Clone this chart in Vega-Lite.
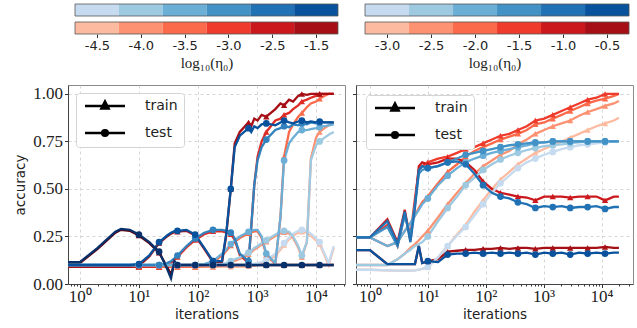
{
"$schema": "https://vega.github.io/schema/vega-lite/v6.json",
"padding": {"left": 13, "top": 3, "right": 0, "bottom": 0},
"config": {
 "font": "DejaVu Sans",
 "view": {"stroke": "#8a8a8a", "strokeWidth": 1},
 "axis": {"titleFontWeight": "normal", "labelColor": "#222222", "titleColor": "#222222", "tickColor": "#333333", "domainColor": "#444444", "domainWidth": 1, "tickWidth": 1}
},
"columns": 2,
"align": "each",
"spacing": {"row": 13, "column": 5},
"resolve": {"scale": {"x": "independent", "y": "independent", "color": "independent", "shape": "independent"}, "legend": {"shape": "independent", "color": "independent"}},
"datasets": {
 "cb": [
  {"bar": "blue", "i": 0, "lo": -0.5, "hi": 0.5, "k": "b0"},
  {"bar": "blue", "i": 1, "lo": 0.5, "hi": 1.5, "k": "b1"},
  {"bar": "blue", "i": 2, "lo": 1.5, "hi": 2.5, "k": "b2"},
  {"bar": "blue", "i": 3, "lo": 2.5, "hi": 3.5, "k": "b3"},
  {"bar": "blue", "i": 4, "lo": 3.5, "hi": 4.5, "k": "b4"},
  {"bar": "blue", "i": 5, "lo": 4.5, "hi": 5.5, "k": "b5"},
  {"bar": "red", "i": 0, "lo": -0.5, "hi": 0.5, "k": "r0"},
  {"bar": "red", "i": 1, "lo": 0.5, "hi": 1.5, "k": "r1"},
  {"bar": "red", "i": 2, "lo": 1.5, "hi": 2.5, "k": "r2"},
  {"bar": "red", "i": 3, "lo": 2.5, "hi": 3.5, "k": "r3"},
  {"bar": "red", "i": 4, "lo": 3.5, "hi": 4.5, "k": "r4"},
  {"bar": "red", "i": 5, "lo": 4.5, "hi": 5.5, "k": "r5"}
 ],
 "L": [
  {"x":0.63,"tr1":0.09,"tr2":0.09,"tr3":0.09,"tr4":0.09,"tr5":0.09,"tr6":0.11,"te1":0.1,"te2":0.1,"te3":0.1,"te4":0.1,"te5":0.1,"te6":0.115},
  {"x":1,"tr1":0.09,"tr2":0.09,"tr3":0.09,"tr4":0.09,"tr5":0.09,"tr6":0.11,"te1":0.1,"te2":0.1,"te3":0.1,"te4":0.1,"te5":0.1,"te6":0.115},
  {"x":2,"tr1":0.09,"tr2":0.09,"tr3":0.09,"tr4":0.09,"tr5":0.09,"tr6":0.185,"te1":0.1,"te2":0.1,"te3":0.1,"te4":0.1,"te5":0.1,"te6":0.19},
  {"x":3,"tr1":0.09,"tr2":0.09,"tr3":0.09,"tr4":0.09,"tr5":0.09,"tr6":0.235,"te1":0.1,"te2":0.1,"te3":0.1,"te4":0.1,"te5":0.1,"te6":0.24},
  {"x":4,"tr1":0.09,"tr2":0.09,"tr3":0.09,"tr4":0.09,"tr5":0.09,"tr6":0.27,"te1":0.1,"te2":0.1,"te3":0.1,"te4":0.1,"te5":0.1,"te6":0.275},
  {"x":5,"tr1":0.09,"tr2":0.09,"tr3":0.09,"tr4":0.09,"tr5":0.09,"tr6":0.285,"te1":0.1,"te2":0.1,"te3":0.1,"te4":0.1,"te5":0.1,"te6":0.29},
  {"x":7,"tr1":0.09,"tr2":0.09,"tr3":0.09,"tr4":0.09,"tr5":0.09,"tr6":0.28,"te1":0.1,"te2":0.1,"te3":0.1,"te4":0.1,"te5":0.1,"te6":0.285},
  {"x":10,"tr1":0.09,"tr2":0.09,"tr3":0.09,"tr4":0.09,"tr5":0.095,"tr6":0.255,"te1":0.1,"te2":0.1,"te3":0.1,"te4":0.1,"te5":0.105,"te6":0.26},
  {"x":15,"tr1":0.09,"tr2":0.09,"tr3":0.09,"tr4":0.09,"tr5":0.145,"tr6":0.215,"te1":0.1,"te2":0.1,"te3":0.1,"te4":0.1,"te5":0.15,"te6":0.22},
  {"x":22,"tr1":0.09,"tr2":0.09,"tr3":0.09,"tr4":0.09,"tr5":0.215,"tr6":0.165,"te1":0.1,"te2":0.1,"te3":0.1,"te4":0.1,"te5":0.22,"te6":0.17},
  {"x":30,"tr1":0.09,"tr2":0.09,"tr3":0.09,"tr4":0.1,"tr5":0.25,"tr6":0.09,"te1":0.1,"te2":0.1,"te3":0.1,"te4":0.11,"te5":0.255,"te6":0.08},
  {"x":35,"tr1":0.09,"tr2":0.09,"tr3":0.09,"tr4":0.11,"tr5":0.265,"tr6":0.05,"te1":0.1,"te2":0.1,"te3":0.1,"te4":0.12,"te5":0.27,"te6":0.03},
  {"x":40,"tr1":0.09,"tr2":0.09,"tr3":0.09,"tr4":0.127,"tr5":0.273,"tr6":0.11,"te1":0.1,"te2":0.1,"te3":0.1,"te4":0.135,"te5":0.278,"te6":0.12},
  {"x":45,"tr1":0.09,"tr2":0.09,"tr3":0.09,"tr4":0.142,"tr5":0.275,"tr6":0.1,"te1":0.1,"te2":0.1,"te3":0.1,"te4":0.15,"te5":0.28,"te6":0.1},
  {"x":64,"tr1":0.09,"tr2":0.09,"tr3":0.09,"tr4":0.192,"tr5":0.28,"tr6":0.1,"te1":0.1,"te2":0.1,"te3":0.1,"te4":0.2,"te5":0.285,"te6":0.1},
  {"x":90,"tr1":0.09,"tr2":0.09,"tr3":0.09,"tr4":0.232,"tr5":0.255,"tr6":0.1,"te1":0.1,"te2":0.1,"te3":0.1,"te4":0.24,"te5":0.26,"te6":0.1},
  {"x":128,"tr1":0.09,"tr2":0.09,"tr3":0.097,"tr4":0.262,"tr5":0.185,"tr6":0.1,"te1":0.1,"te2":0.1,"te3":0.105,"te4":0.27,"te5":0.19,"te6":0.1},
  {"x":180,"tr1":0.09,"tr2":0.09,"tr3":0.112,"tr4":0.277,"tr5":0.115,"tr6":0.1,"te1":0.1,"te2":0.1,"te3":0.12,"te4":0.285,"te5":0.12,"te6":0.1},
  {"x":256,"tr1":0.09,"tr2":0.097,"tr3":0.152,"tr4":0.277,"tr5":0.115,"tr6":0.1,"te1":0.1,"te2":0.105,"te3":0.16,"te4":0.285,"te5":0.12,"te6":0.1},
  {"x":300,"tr1":0.09,"tr2":0.102,"tr3":0.172,"tr4":0.272,"tr5":0.25,"tr6":0.1,"te1":0.1,"te2":0.11,"te3":0.18,"te4":0.28,"te5":0.26,"te6":0.1},
  {"x":360,"tr1":0.09,"tr2":0.112,"tr3":0.202,"tr4":0.262,"tr5":0.5,"tr6":0.1,"te1":0.1,"te2":0.12,"te3":0.21,"te4":0.27,"te5":0.5,"te6":0.1},
  {"x":420,"tr1":0.09,"tr2":0.122,"tr3":0.222,"tr4":0.232,"tr5":0.74,"tr6":0.1,"te1":0.1,"te2":0.13,"te3":0.23,"te4":0.24,"te5":0.72,"te6":0.1},
  {"x":512,"tr1":0.09,"tr2":0.132,"tr3":0.242,"tr4":0.152,"tr5":0.8,"tr6":0.1,"te1":0.1,"te2":0.14,"te3":0.25,"te4":0.16,"te5":0.78,"te6":0.1},
  {"x":720,"tr1":0.093,"tr2":0.157,"tr3":0.267,"tr4":0.11,"tr5":0.85,"tr6":0.1,"te1":0.103,"te2":0.165,"te3":0.275,"te4":0.12,"te5":0.82,"te6":0.1},
  {"x":800,"tr1":0.095,"tr2":0.167,"tr3":0.272,"tr4":0.3,"tr5":0.83,"tr6":0.1,"te1":0.105,"te2":0.175,"te3":0.28,"te4":0.3,"te5":0.8,"te6":0.1},
  {"x":900,"tr1":0.097,"tr2":0.182,"tr3":0.277,"tr4":0.52,"tr5":0.87,"tr6":0.1,"te1":0.107,"te2":0.19,"te3":0.285,"te4":0.52,"te5":0.83,"te6":0.1},
  {"x":1024,"tr1":0.1,"tr2":0.192,"tr3":0.277,"tr4":0.67,"tr5":0.86,"tr6":0.1,"te1":0.11,"te2":0.2,"te3":0.285,"te4":0.65,"te5":0.82,"te6":0.1},
  {"x":1200,"tr1":0.105,"tr2":0.207,"tr3":0.242,"tr4":0.75,"tr5":0.89,"tr6":0.1,"te1":0.115,"te2":0.215,"te3":0.25,"te4":0.72,"te5":0.84,"te6":0.1},
  {"x":1440,"tr1":0.115,"tr2":0.222,"tr3":0.152,"tr4":0.8,"tr5":0.88,"tr6":0.1,"te1":0.125,"te2":0.23,"te3":0.16,"te4":0.76,"te5":0.845,"te6":0.1},
  {"x":2048,"tr1":0.15,"tr2":0.252,"tr3":0.105,"tr4":0.86,"tr5":0.92,"tr6":0.1,"te1":0.16,"te2":0.26,"te3":0.11,"te4":0.81,"te5":0.835,"te6":0.1},
  {"x":2500,"tr1":0.18,"tr2":0.267,"tr3":0.35,"tr4":0.87,"tr5":0.95,"tr6":0.1,"te1":0.19,"te2":0.275,"te3":0.35,"te4":0.82,"te5":0.85,"te6":0.1},
  {"x":2880,"tr1":0.205,"tr2":0.272,"tr3":0.67,"tr4":0.89,"tr5":0.94,"tr6":0.1,"te1":0.215,"te2":0.28,"te3":0.65,"te4":0.83,"te5":0.86,"te6":0.1},
  {"x":3500,"tr1":0.235,"tr2":0.267,"tr3":0.8,"tr4":0.9,"tr5":0.97,"tr6":0.1,"te1":0.245,"te2":0.275,"te3":0.74,"te4":0.825,"te5":0.85,"te6":0.1},
  {"x":4096,"tr1":0.255,"tr2":0.242,"tr3":0.84,"tr4":0.92,"tr5":0.96,"tr6":0.1,"te1":0.265,"te2":0.25,"te3":0.77,"te4":0.84,"te5":0.845,"te6":0.1},
  {"x":5000,"tr1":0.27,"tr2":0.192,"tr3":0.88,"tr4":0.94,"tr5":0.99,"tr6":0.1,"te1":0.28,"te2":0.2,"te3":0.8,"te4":0.835,"te5":0.855,"te6":0.1},
  {"x":5760,"tr1":0.275,"tr2":0.142,"tr3":0.9,"tr4":0.96,"tr5":1.0,"tr6":0.1,"te1":0.285,"te2":0.15,"te3":0.81,"te4":0.845,"te5":0.86,"te6":0.1},
  {"x":7000,"tr1":0.27,"tr2":0.22,"tr3":0.93,"tr4":0.97,"tr5":0.995,"tr6":0.1,"te1":0.28,"te2":0.22,"te3":0.81,"te4":0.84,"te5":0.85,"te6":0.1},
  {"x":8192,"tr1":0.255,"tr2":0.66,"tr3":0.95,"tr4":0.98,"tr5":1.0,"tr6":0.1,"te1":0.265,"te2":0.65,"te3":0.815,"te4":0.85,"te5":0.855,"te6":0.1},
  {"x":10000,"tr1":0.23,"tr2":0.77,"tr3":0.96,"tr4":0.99,"tr5":1.0,"tr6":0.1,"te1":0.24,"te2":0.73,"te3":0.82,"te4":0.845,"te5":0.85,"te6":0.1},
  {"x":11520,"tr1":0.21,"tr2":0.8,"tr3":0.975,"tr4":1.0,"tr5":1.0,"tr6":0.1,"te1":0.22,"te2":0.75,"te3":0.825,"te4":0.85,"te5":0.855,"te6":0.1},
  {"x":14000,"tr1":0.15,"tr2":0.82,"tr3":0.99,"tr4":1.0,"tr5":1.0,"tr6":0.1,"te1":0.16,"te2":0.77,"te3":0.83,"te4":0.85,"te5":0.85,"te6":0.1},
  {"x":16384,"tr1":0.1,"tr2":0.835,"tr3":1.0,"tr4":1.0,"tr5":1.0,"tr6":0.1,"te1":0.11,"te2":0.785,"te3":0.835,"te4":0.85,"te5":0.85,"te6":0.1},
  {"x":20000,"tr1":0.19,"tr2":0.85,"tr3":1.0,"tr4":1.0,"tr5":1.0,"tr6":0.1,"te1":0.2,"te2":0.8,"te3":0.84,"te4":0.85,"te5":0.85,"te6":0.1}
 ],
 "R": [
  {"x":0.575,"tr1":0.075,"tr2":0.1,"tr3":0.245,"tr4":0.245,"tr5":0.245,"tr6":0.178,"te1":0.075,"te2":0.1,"te3":0.245,"te4":0.245,"te5":0.245,"te6":0.178},
  {"x":1,"tr1":0.075,"tr2":0.1,"tr3":0.245,"tr4":0.245,"tr5":0.245,"tr6":0.178,"te1":0.075,"te2":0.1,"te3":0.245,"te4":0.245,"te5":0.245,"te6":0.178},
  {"x":2,"tr1":0.072,"tr2":0.1,"tr3":0.2,"tr4":0.31,"tr5":0.34,"tr6":0.105,"te1":0.072,"te2":0.1,"te3":0.2,"te4":0.3,"te5":0.33,"te6":0.105},
  {"x":3,"tr1":0.07,"tr2":0.13,"tr3":0.22,"tr4":0.2,"tr5":0.22,"tr6":0.105,"te1":0.07,"te2":0.13,"te3":0.22,"te4":0.2,"te5":0.21,"te6":0.105},
  {"x":4,"tr1":0.07,"tr2":0.16,"tr3":0.28,"tr4":0.37,"tr5":0.39,"tr6":0.105,"te1":0.07,"te2":0.16,"te3":0.28,"te4":0.36,"te5":0.38,"te6":0.105},
  {"x":5,"tr1":0.07,"tr2":0.19,"tr3":0.32,"tr4":0.25,"tr5":0.23,"tr6":0.105,"te1":0.07,"te2":0.18,"te3":0.32,"te4":0.25,"te5":0.22,"te6":0.105},
  {"x":6,"tr1":0.072,"tr2":0.21,"tr3":0.36,"tr4":0.45,"tr5":0.42,"tr6":0.105,"te1":0.072,"te2":0.2,"te3":0.36,"te4":0.42,"te5":0.4,"te6":0.105},
  {"x":7,"tr1":0.075,"tr2":0.23,"tr3":0.4,"tr4":0.6,"tr5":0.62,"tr6":0.2,"te1":0.075,"te2":0.21,"te3":0.39,"te4":0.58,"te5":0.6,"te6":0.2},
  {"x":8,"tr1":0.08,"tr2":0.25,"tr3":0.43,"tr4":0.62,"tr5":0.64,"tr6":0.11,"te1":0.08,"te2":0.22,"te3":0.42,"te4":0.6,"te5":0.62,"te6":0.11},
  {"x":10,"tr1":0.09,"tr2":0.28,"tr3":0.46,"tr4":0.64,"tr5":0.63,"tr6":0.12,"te1":0.09,"te2":0.25,"te3":0.45,"te4":0.61,"te5":0.61,"te6":0.12},
  {"x":15,"tr1":0.14,"tr2":0.35,"tr3":0.53,"tr4":0.66,"tr5":0.64,"tr6":0.13,"te1":0.14,"te2":0.33,"te3":0.52,"te4":0.62,"te5":0.62,"te6":0.115},
  {"x":22,"tr1":0.2,"tr2":0.42,"tr3":0.59,"tr4":0.67,"tr5":0.66,"tr6":0.17,"te1":0.2,"te2":0.4,"te3":0.57,"te4":0.64,"te5":0.64,"te6":0.155},
  {"x":32,"tr1":0.26,"tr2":0.48,"tr3":0.63,"tr4":0.69,"tr5":0.66,"tr6":0.175,"te1":0.255,"te2":0.46,"te3":0.61,"te4":0.66,"te5":0.645,"te6":0.16},
  {"x":45,"tr1":0.31,"tr2":0.53,"tr3":0.67,"tr4":0.71,"tr5":0.64,"tr6":0.18,"te1":0.3,"te2":0.52,"te3":0.64,"te4":0.68,"te5":0.63,"te6":0.16},
  {"x":64,"tr1":0.38,"tr2":0.58,"tr3":0.7,"tr4":0.72,"tr5":0.6,"tr6":0.18,"te1":0.36,"te2":0.56,"te3":0.66,"te4":0.69,"te5":0.58,"te6":0.165},
  {"x":90,"tr1":0.44,"tr2":0.62,"tr3":0.72,"tr4":0.74,"tr5":0.54,"tr6":0.185,"te1":0.42,"te2":0.6,"te3":0.675,"te4":0.7,"te5":0.52,"te6":0.16},
  {"x":128,"tr1":0.5,"tr2":0.65,"tr3":0.74,"tr4":0.76,"tr5":0.5,"tr6":0.185,"te1":0.48,"te2":0.63,"te3":0.69,"te4":0.71,"te5":0.48,"te6":0.165},
  {"x":180,"tr1":0.55,"tr2":0.68,"tr3":0.76,"tr4":0.78,"tr5":0.48,"tr6":0.19,"te1":0.53,"te2":0.655,"te3":0.7,"te4":0.72,"te5":0.46,"te6":0.16},
  {"x":256,"tr1":0.59,"tr2":0.7,"tr3":0.775,"tr4":0.79,"tr5":0.47,"tr6":0.185,"te1":0.57,"te2":0.675,"te3":0.71,"te4":0.73,"te5":0.45,"te6":0.165},
  {"x":360,"tr1":0.63,"tr2":0.735,"tr3":0.79,"tr4":0.81,"tr5":0.46,"tr6":0.19,"te1":0.61,"te2":0.69,"te3":0.72,"te4":0.735,"te5":0.43,"te6":0.16},
  {"x":512,"tr1":0.66,"tr2":0.76,"tr3":0.81,"tr4":0.83,"tr5":0.455,"tr6":0.19,"te1":0.64,"te2":0.705,"te3":0.73,"te4":0.74,"te5":0.42,"te6":0.165},
  {"x":720,"tr1":0.69,"tr2":0.79,"tr3":0.84,"tr4":0.86,"tr5":0.44,"tr6":0.185,"te1":0.66,"te2":0.715,"te3":0.74,"te4":0.745,"te5":0.4,"te6":0.155},
  {"x":1024,"tr1":0.71,"tr2":0.81,"tr3":0.85,"tr4":0.87,"tr5":0.46,"tr6":0.19,"te1":0.68,"te2":0.725,"te3":0.745,"te4":0.745,"te5":0.41,"te6":0.165},
  {"x":1440,"tr1":0.73,"tr2":0.83,"tr3":0.87,"tr4":0.89,"tr5":0.46,"tr6":0.19,"te1":0.695,"te2":0.73,"te3":0.75,"te4":0.75,"te5":0.405,"te6":0.16},
  {"x":2048,"tr1":0.75,"tr2":0.845,"tr3":0.89,"tr4":0.91,"tr5":0.46,"tr6":0.19,"te1":0.71,"te2":0.735,"te3":0.75,"te4":0.75,"te5":0.41,"te6":0.165},
  {"x":2880,"tr1":0.77,"tr2":0.86,"tr3":0.91,"tr4":0.93,"tr5":0.455,"tr6":0.19,"te1":0.72,"te2":0.74,"te3":0.75,"te4":0.75,"te5":0.4,"te6":0.155},
  {"x":4096,"tr1":0.79,"tr2":0.885,"tr3":0.93,"tr4":0.95,"tr5":0.46,"tr6":0.19,"te1":0.73,"te2":0.745,"te3":0.75,"te4":0.75,"te5":0.405,"te6":0.165},
  {"x":5760,"tr1":0.81,"tr2":0.905,"tr3":0.95,"tr4":0.97,"tr5":0.46,"tr6":0.19,"te1":0.735,"te2":0.75,"te3":0.75,"te4":0.75,"te5":0.405,"te6":0.16},
  {"x":8192,"tr1":0.83,"tr2":0.92,"tr3":0.965,"tr4":0.98,"tr5":0.46,"tr6":0.19,"te1":0.74,"te2":0.75,"te3":0.75,"te4":0.75,"te5":0.41,"te6":0.165},
  {"x":11520,"tr1":0.845,"tr2":0.937,"tr3":0.975,"tr4":1.0,"tr5":0.44,"tr6":0.195,"te1":0.745,"te2":0.75,"te3":0.75,"te4":0.75,"te5":0.395,"te6":0.16},
  {"x":16384,"tr1":0.86,"tr2":0.95,"tr3":0.99,"tr4":1.0,"tr5":0.46,"tr6":0.19,"te1":0.75,"te2":0.75,"te3":0.75,"te4":0.75,"te5":0.405,"te6":0.165},
  {"x":20000,"tr1":0.875,"tr2":0.963,"tr3":1.0,"tr4":1.0,"tr5":0.46,"tr6":0.19,"te1":0.75,"te2":0.75,"te3":0.75,"te4":0.75,"te5":0.405,"te6":0.165}
 ]
},
"concat": [
 {
  "width": 277, "height": 30, "view": {"stroke": null},
  "data": {"name": "cb"},
  "layer": [
   {"transform": [{"filter": "datum.bar == 'blue'"}],
    "mark": {"type": "tick", "color": "#333333", "thickness": 1, "size": 5},
    "encoding": {
     "x": {"field": "i", "type": "quantitative", "scale": {"domain": [-0.66, 5.66], "nice": false, "zero": false},
       "axis": {"orient": "bottom", "values": [0,1,2,3,4,5], "labelExpr": "['-4.5','-4.0','-3.5','-3.0','-2.5','-1.5'][datum.value]", "domain": false, "grid": false, "tickSize": 3.5, "labelFont": "DejaVu Sans", "labelFontSize": 13, "labelPadding": 2, "title": "log₁₀(η₀)", "titleFont": "Liberation Serif", "titleFontSize": 15, "titlePadding": 3}},
     "y": {"field": "bar", "type": "nominal", "bandPosition": 1, "scale": {"domain": ["blue","red"], "paddingInner": 0.333, "paddingOuter": 0}, "axis": null}
    }},
   {"mark": {"type": "rect"},
    "encoding": {
     "x": {"field": "lo", "type": "quantitative"}, "x2": {"field": "hi"},
     "y": {"field": "bar", "type": "nominal"},
     "color": {"field": "k", "type": "nominal", "legend": null, "scale": {"domain": ["b0","b1","b2","b3","b4","b5","r0","r1","r2","r3","r4","r5"], "range": ["#c6dbef","#9ecae1","#6baed6","#4292c6","#2171b5","#08519c","#fcbba1","#fc9272","#fb6a4a","#ef3b2c","#cb181d","#a50f15"]}}
    }},
   {"transform": [{"aggregate": [{"op": "min", "field": "lo", "as": "lo"}, {"op": "max", "field": "hi", "as": "hi"}], "groupby": ["bar"]}],
    "mark": {"type": "rect", "filled": false, "stroke": "#555555", "strokeWidth": 0.8},
    "encoding": {"x": {"field": "lo", "type": "quantitative"}, "x2": {"field": "hi"}, "y": {"field": "bar", "type": "nominal"}}}
  ]
 },
 {
  "width": 277, "height": 30, "view": {"stroke": null},
  "data": {"name": "cb"},
  "layer": [
   {"transform": [{"filter": "datum.bar == 'blue'"}],
    "mark": {"type": "tick", "color": "#333333", "thickness": 1, "size": 5},
    "encoding": {
     "x": {"field": "i", "type": "quantitative", "scale": {"domain": [-0.705, 5.59], "nice": false, "zero": false},
       "axis": {"orient": "bottom", "values": [0,1,2,3,4,5], "labelExpr": "['-3.0','-2.5','-2.0','-1.5','-1.0','-0.5'][datum.value]", "domain": false, "grid": false, "tickSize": 3.5, "labelFont": "DejaVu Sans", "labelFontSize": 13, "labelPadding": 2, "title": "log₁₀(η₀)", "titleFont": "Liberation Serif", "titleFontSize": 15, "titlePadding": 3}},
     "y": {"field": "bar", "type": "nominal", "bandPosition": 1, "scale": {"domain": ["blue","red"], "paddingInner": 0.333, "paddingOuter": 0}, "axis": null}
    }},
   {"mark": {"type": "rect"},
    "encoding": {
     "x": {"field": "lo", "type": "quantitative"}, "x2": {"field": "hi"},
     "y": {"field": "bar", "type": "nominal"},
     "color": {"field": "k", "type": "nominal", "legend": null, "scale": {"domain": ["b0","b1","b2","b3","b4","b5","r0","r1","r2","r3","r4","r5"], "range": ["#c6dbef","#9ecae1","#6baed6","#4292c6","#2171b5","#08519c","#fcbba1","#fc9272","#fb6a4a","#ef3b2c","#cb181d","#a50f15"]}}
    }},
   {"transform": [{"aggregate": [{"op": "min", "field": "lo", "as": "lo"}, {"op": "max", "field": "hi", "as": "hi"}], "groupby": ["bar"]}],
    "mark": {"type": "rect", "filled": false, "stroke": "#555555", "strokeWidth": 0.8},
    "encoding": {"x": {"field": "lo", "type": "quantitative"}, "x2": {"field": "hi"}, "y": {"field": "bar", "type": "nominal"}}}
  ]
 },
 {
  "width": 277, "height": 199,
  "data": {"name": "L"},
  "resolve": {"axis": {"x": "independent"}},
  "layer": [
   {"transform": [{"fold": ["tr1","tr2","tr3","tr4","tr5","tr6","te1","te2","te3","te4","te5","te6"], "as": ["s","acc"]}],
    "mark": {"type": "line", "strokeWidth": 2.3, "clip": true},
    "encoding": {
     "x": {"field": "x", "type": "quantitative", "scale": {"type": "log", "domain": [0.63, 31000], "nice": false},
       "axis": {"orient": "bottom", "values": [1,10,100,1000,10000], "labelExpr": "'10' + ['⁰','¹','²','³','⁴'][round(log(datum.value)/LN10)]", "grid": true, "gridDash": [3,3], "gridColor": "#cccccc", "gridWidth": 0.8, "tickSize": 3.5, "labelFont": "Liberation Serif", "labelFontSize": 17, "labelPadding": 1, "labelFlush": false, "labelOverlap": false, "title": "iterations", "titleFont": "DejaVu Sans", "titleFontSize": 13.5, "titlePadding": 3}},
     "y": {"field": "acc", "type": "quantitative", "scale": {"domain": [0, 1.047], "nice": false, "zero": false},
       "axis": {"values": [0,0.25,0.5,0.75,1], "format": ".2f", "grid": true, "gridDash": [3,3], "gridColor": "#cccccc", "gridWidth": 0.8, "tickSize": 3.5, "labelFont": "Liberation Serif", "labelFontSize": 17, "labelPadding": 2, "title": "accuracy", "titleFont": "DejaVu Sans", "titleFontSize": 13.5, "titlePadding": 5}},
     "color": {"field": "s", "type": "nominal", "legend": null, "scale": {"domain": ["tr1","tr2","tr3","tr4","tr5","tr6","te1","te2","te3","te4","te5","te6"], "range": ["#fcbba1","#fc9272","#fb6a4a","#de2d26","#a50f15","#67000d","#c6dbef","#9ecae1","#6baed6","#3182bd","#08519c","#08306b"]}}
    }},
   {"transform": [{"fold": ["tr1","tr2","tr3","tr4","tr5","tr6"], "as": ["s","acc"]}, {"filter": {"field": "x", "oneOf": [10,22,45,90,180,360,720,1440,2880,5760,11520]}}],
    "mark": {"type": "point", "shape": "triangle-up", "filled": true, "opacity": 1, "size": 40, "clip": true},
    "encoding": {
     "x": {"field": "x", "type": "quantitative",
       "axis": {"orient": "bottom", "values": [0.7,0.8,0.9,2,3,4,5,6,7,8,9,20,30,40,50,60,70,80,90,200,300,400,500,600,700,800,900,2000,3000,4000,5000,6000,7000,8000,9000,20000,30000], "labels": false, "grid": false, "domain": false, "tickSize": 2, "title": null}},
     "y": {"field": "acc", "type": "quantitative"},
     "color": {"field": "s", "type": "nominal", "legend": null}
    }},
   {"transform": [{"fold": ["te1","te2","te3","te4","te5","te6"], "as": ["s","acc"]}, {"filter": {"field": "x", "oneOf": [10,22,45,90,180,360,720,1440,2880,5760,11520]}}],
    "mark": {"type": "point", "shape": "circle", "filled": true, "opacity": 1, "size": 45, "clip": true},
    "encoding": {
     "x": {"field": "x", "type": "quantitative", "axis": null},
     "y": {"field": "acc", "type": "quantitative"},
     "color": {"field": "s", "type": "nominal", "legend": null}
    }},
   {"transform": [{"filter": "false"}],
    "mark": {"type": "point", "filled": false, "color": "black", "strokeWidth": 2.5, "size": 64, "opacity": 1},
    "encoding": {
     "shape": {"datum": "train", "type": "nominal",
       "scale": {"domain": ["train","test"], "range": ["M-5,0H5M0,-1.1L0.9,0.65L-0.9,0.65Z M0,-0.3L0.3,0.3L-0.3,0.3Z", "M-5,0H5M0.7,0A0.7,0.7,0,1,1,-0.7,0A0.7,0.7,0,1,1,0.7,0Z M0.2,0A0.2,0.2,0,1,1,-0.2,0A0.2,0.2,0,1,1,0.2,0Z"]},
       "legend": {"orient": "top-left", "offset": 8, "padding": 6, "fillColor": "#ffffff", "strokeColor": "#d4d4d4", "cornerRadius": 3, "title": null, "labelFont": "DejaVu Sans", "labelFontSize": 14, "labelColor": "#222222", "symbolOffset": 16, "labelOffset": 33, "rowPadding": 11, "symbolSize": 64, "symbolStrokeWidth": 2.5, "symbolStrokeColor": "black", "symbolFillColor": "black", "symbolOpacity": 1,
         "encode": {"symbols": {"update": {"fill": {"value": "black"}, "stroke": {"value": "black"}, "strokeWidth": {"value": 2.5}}}}}}
    }}
  ]
 },
 {
  "width": 277, "height": 199,
  "data": {"name": "R"},
  "resolve": {"axis": {"x": "independent"}},
  "layer": [
   {"transform": [{"fold": ["tr1","tr2","tr3","tr4","tr5","tr6","te1","te2","te3","te4","te5","te6"], "as": ["s","acc"]}],
    "mark": {"type": "line", "strokeWidth": 2.3, "clip": true},
    "encoding": {
     "x": {"field": "x", "type": "quantitative", "scale": {"type": "log", "domain": [0.575, 35000], "nice": false},
       "axis": {"orient": "bottom", "values": [1,10,100,1000,10000], "labelExpr": "'10' + ['⁰','¹','²','³','⁴'][round(log(datum.value)/LN10)]", "grid": true, "gridDash": [3,3], "gridColor": "#cccccc", "gridWidth": 0.8, "tickSize": 3.5, "labelFont": "Liberation Serif", "labelFontSize": 17, "labelPadding": 1, "labelFlush": false, "labelOverlap": false, "title": "iterations", "titleFont": "DejaVu Sans", "titleFontSize": 13.5, "titlePadding": 3}},
     "y": {"field": "acc", "type": "quantitative", "scale": {"domain": [0, 1.047], "nice": false, "zero": false},
       "axis": {"values": [0,0.25,0.5,0.75,1], "grid": true, "gridDash": [3,3], "gridColor": "#cccccc", "gridWidth": 0.8, "tickSize": 3.5, "labels": false, "title": null}},
     "color": {"field": "s", "type": "nominal", "legend": null, "scale": {"domain": ["tr1","tr2","tr3","tr4","tr5","tr6","te1","te2","te3","te4","te5","te6"], "range": ["#fcbba1","#fc9272","#fb6a4a","#ef3b2c","#cb181d","#a50f15","#c6dbef","#9ecae1","#6baed6","#4292c6","#2171b5","#08519c"]}}
    }},
   {"transform": [{"fold": ["tr1","tr2","tr3","tr4","tr5","tr6"], "as": ["s","acc"]}, {"filter": {"field": "x", "oneOf": [10,22,45,90,180,360,720,1440,2880,5760,11520]}}],
    "mark": {"type": "point", "shape": "triangle-up", "filled": true, "opacity": 1, "size": 40, "clip": true},
    "encoding": {
     "x": {"field": "x", "type": "quantitative",
       "axis": {"orient": "bottom", "values": [0.6,0.7,0.8,0.9,2,3,4,5,6,7,8,9,20,30,40,50,60,70,80,90,200,300,400,500,600,700,800,900,2000,3000,4000,5000,6000,7000,8000,9000,20000,30000], "labels": false, "grid": false, "domain": false, "tickSize": 2, "title": null}},
     "y": {"field": "acc", "type": "quantitative"},
     "color": {"field": "s", "type": "nominal", "legend": null}
    }},
   {"transform": [{"fold": ["te1","te2","te3","te4","te5","te6"], "as": ["s","acc"]}, {"filter": {"field": "x", "oneOf": [10,22,45,90,180,360,720,1440,2880,5760,11520]}}],
    "mark": {"type": "point", "shape": "circle", "filled": true, "opacity": 1, "size": 45, "clip": true},
    "encoding": {
     "x": {"field": "x", "type": "quantitative", "axis": null},
     "y": {"field": "acc", "type": "quantitative"},
     "color": {"field": "s", "type": "nominal", "legend": null}
    }},
   {"transform": [{"filter": "false"}],
    "mark": {"type": "point", "filled": false, "color": "black", "strokeWidth": 2.5, "size": 64, "opacity": 1},
    "encoding": {
     "shape": {"datum": "train", "type": "nominal",
       "scale": {"domain": ["train","test"], "range": ["M-5,0H5M0,-1.1L0.9,0.65L-0.9,0.65Z M0,-0.3L0.3,0.3L-0.3,0.3Z", "M-5,0H5M0.7,0A0.7,0.7,0,1,1,-0.7,0A0.7,0.7,0,1,1,0.7,0Z M0.2,0A0.2,0.2,0,1,1,-0.2,0A0.2,0.2,0,1,1,0.2,0Z"]},
       "legend": {"orient": "top-left", "offset": 10, "padding": 6, "fillColor": "#ffffff", "strokeColor": "#d4d4d4", "cornerRadius": 3, "title": null, "labelFont": "DejaVu Sans", "labelFontSize": 14, "labelColor": "#222222", "symbolOffset": 16, "labelOffset": 33, "rowPadding": 11, "symbolSize": 64, "symbolStrokeWidth": 2.5, "symbolStrokeColor": "black", "symbolFillColor": "black", "symbolOpacity": 1,
         "encode": {"symbols": {"update": {"fill": {"value": "black"}, "stroke": {"value": "black"}, "strokeWidth": {"value": 2.5}}}}}}
    }}
  ]
 }
]
}
